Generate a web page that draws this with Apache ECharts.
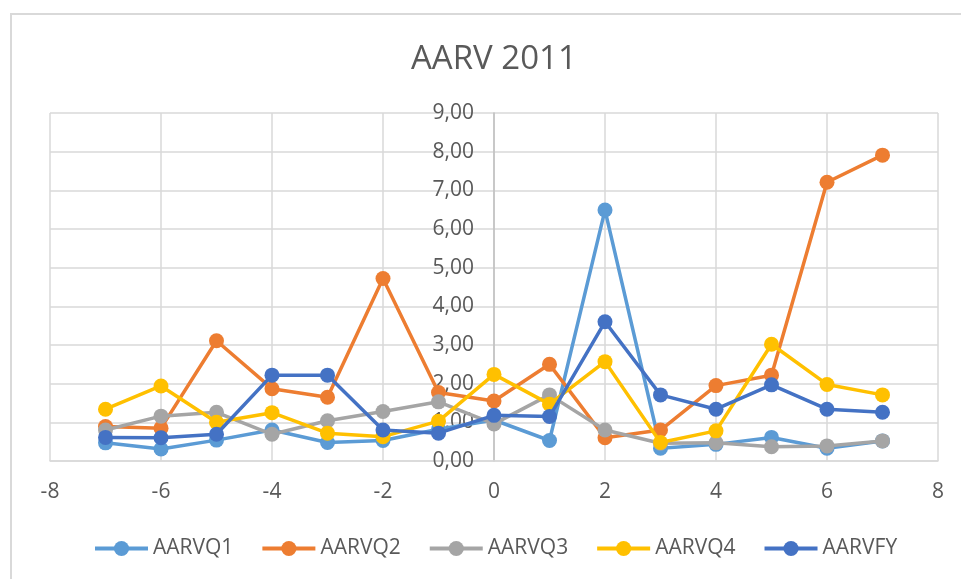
<!DOCTYPE html>
<html>
<head>
<meta charset="utf-8">
<script src="https://cdn.jsdelivr.net/npm/echarts@6/dist/echarts.min.js"></script>
<style>
html,body{margin:0;padding:0;background:#fff;}
#chart{width:961px;height:579px;}
</style>
</head>
<body>
<div id="chart"></div>
<script>
const xValues = [-7, -6, -5, -4, -3, -2, -1, 0, 1, 2, 3, 4, 5, 6, 7];
const seriesNames = ['AARVQ1', 'AARVQ2', 'AARVQ3', 'AARVQ4', 'AARVFY'];
const aarvQ1 = [0.47, 0.31, 0.54, 0.80, 0.48, 0.53, 0.82, 1.06, 0.53, 6.49, 0.33, 0.43, 0.61, 0.33, 0.52];
const aarvQ2 = [0.89, 0.85, 3.11, 1.87, 1.65, 4.72, 1.77, 1.55, 2.50, 0.60, 0.80, 1.95, 2.22, 7.21, 7.91];
const aarvQ3 = [0.80, 1.16, 1.26, 0.69, 1.04, 1.28, 1.53, 0.96, 1.71, 0.80, 0.46, 0.47, 0.37, 0.39, 0.52];
const aarvQ4 = [1.34, 1.94, 1.00, 1.25, 0.72, 0.63, 1.03, 2.24, 1.47, 2.57, 0.48, 0.78, 3.02, 1.98, 1.71];
const aarvFY = [0.61, 0.60, 0.69, 2.22, 2.22, 0.80, 0.72, 1.18, 1.15, 3.60, 1.71, 1.34, 1.97, 1.34, 1.26];
const colors = ['#5B9BD5', '#ED7D31', '#A5A5A5', '#FFC000', '#4472C4'];
const allSeries = [aarvQ1, aarvQ2, aarvQ3, aarvQ4, aarvFY];

const FONT = '"Open Sans", "Liberation Sans", sans-serif';
const GRID_LEFT = 50, GRID_RIGHT = 23;
const plotWidth = 961 - GRID_LEFT - GRID_RIGHT;
const chart = echarts.init(document.getElementById('chart'));
chart.setOption({
  backgroundColor: '#ffffff',
  animation: false,
  title: {
    text: 'AARV 2011',
    left: 406,
    top: 38,
    textStyle: { fontFamily: FONT, fontSize: 33, fontWeight: 'normal', color: '#595959' }
  },
  graphic: [{
    type: 'rect',
    shape: { x: 11, y: 14, width: 1000, height: 700 },
    style: { fill: 'none', stroke: '#d9d9d9', lineWidth: 2 },
    silent: true
  }],
  legend: {
    bottom: 15,
    left: 88,
    itemWidth: 53,
    itemHeight: 19,
    itemGap: 27,
    lineStyle: { width: 4 },
    textStyle: { fontFamily: FONT, fontSize: 21, color: '#595959' },
    data: seriesNames
  },
  grid: { left: GRID_LEFT, right: GRID_RIGHT, top: 113, bottom: 118, containLabel: false, outerBoundsMode: 'none' },
  xAxis: {
    type: 'value',
    min: -8, max: 8, interval: 2,
    axisLine: { show: true, onZero: false, lineStyle: { color: '#d9d9d9', width: 1.5 } },
    axisTick: { show: false },
    splitLine: { show: true, lineStyle: { color: '#d9d9d9', width: 1.5 } },
    axisLabel: { fontFamily: FONT, fontSize: 21, color: '#595959', margin: 21 }
  },
  yAxis: {
    type: 'value',
    min: 0, max: 9, interval: 1,
    offset: -plotWidth / 2,
    axisLine: { show: true, onZero: false, lineStyle: { color: '#bfbfbf', width: 1.5 } },
    axisTick: { show: false },
    splitLine: { show: true, lineStyle: { color: '#d9d9d9', width: 1.5 } },
    axisLabel: {
      fontFamily: FONT, fontSize: 21, color: '#595959', margin: 20,
      formatter: v => v.toFixed(2).replace('.', ',')
    }
  },
  series: seriesNames.map((name, i) => ({
    name: name,
    type: 'line',
    data: xValues.map((x, j) => [x, allSeries[i][j]]),
    symbol: 'circle',
    symbolSize: 15,
    color: colors[i],
    lineStyle: { width: 3.5, color: colors[i] },
    itemStyle: { color: colors[i] },
    z: 2 + i
  }))
});
</script>
</body>
</html>
